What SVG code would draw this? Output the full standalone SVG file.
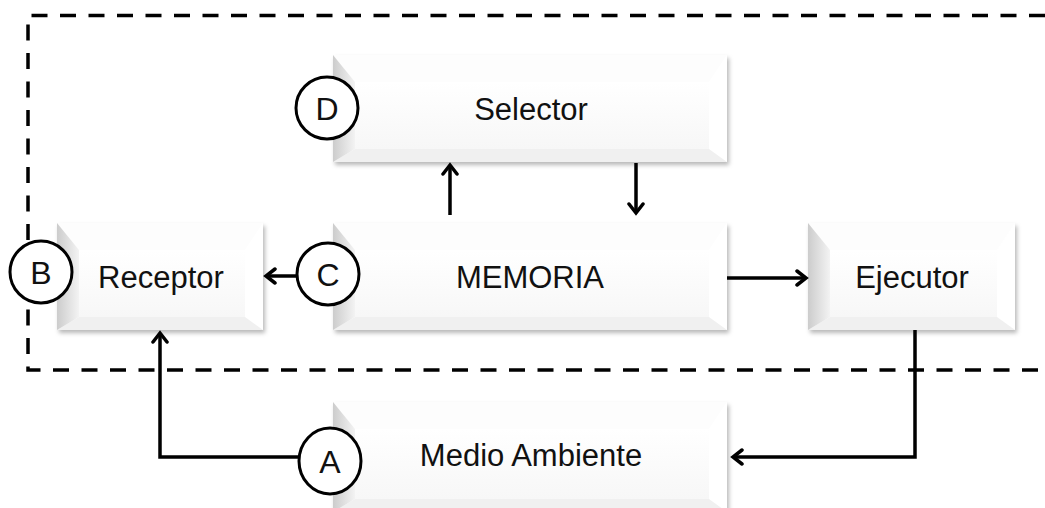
<svg xmlns="http://www.w3.org/2000/svg" width="1045" height="508" viewBox="0 0 1045 508">
<style>
.lbl{font-family:"Liberation Sans",Arial,sans-serif;font-size:31px;fill:#111;text-anchor:middle}
.let{font-family:"Liberation Sans",Arial,sans-serif;font-size:32px;fill:#111;text-anchor:middle}
.outer{fill:#ffffff;filter:url(#sh)}
.lb{fill:url(#gL)}
.tb{fill:#fdfdfd}
.rb{fill:#ffffff}
.bb{fill:#f0f0f0}
.face{fill:url(#gF)}
.ring{fill:#fff;stroke:#000;stroke-width:3}
.con{fill:none;stroke:#000;stroke-width:3.5}
.dash{fill:none;stroke:#000;stroke-width:3.5;stroke-dasharray:16 12.5}
</style>
<defs>
<filter id="sh" x="-5%" y="-5%" width="115%" height="120%">
<feDropShadow dx="2" dy="3" stdDeviation="2" flood-color="#000" flood-opacity="0.28"/>
</filter>
<linearGradient id="gL" x1="0" y1="0" x2="1" y2="0">
<stop offset="0" stop-color="#cccccc"/>
<stop offset="1" stop-color="#f3f3f3"/>
</linearGradient>
<linearGradient id="gF" x1="0" y1="0" x2="0" y2="1">
<stop offset="0" stop-color="#ffffff"/>
<stop offset="1" stop-color="#f7f7f7"/>
</linearGradient>
<marker id="ah" viewBox="0 0 14 18" refX="11" refY="9" markerWidth="14" markerHeight="18" markerUnits="userSpaceOnUse" orient="auto">
<path d="M2,2 L11,9 L2,16" fill="none" stroke="#000" stroke-width="3.5" stroke-linecap="round" stroke-linejoin="miter"/>
</marker>
</defs>
<rect width="1045" height="508" fill="#fff"/>

<g id="boundary">
<path class="dash" d="M1045,15.5 H28 V370 H1045"/>
</g>

<g id="selector">
<rect class="outer" x="333" y="55" width="394" height="107"/>
<polygon class="tb" points="333,55 727,55 709,82 355,82"/>
<polygon class="rb" points="727,55 727,162 709,149 709,82"/>
<polygon class="bb" points="333,162 355,149 709,149 727,162"/>
<polygon class="lb" points="333,55 355,82 355,149 333,162"/>
<rect class="face" x="355" y="82" width="354" height="67"/>
<text class="lbl" x="531" y="120">Selector</text>
</g>

<g id="receptor">
<rect class="outer" x="57" y="223" width="206" height="107"/>
<polygon class="tb" points="57,223 263,223 245,250 79,250"/>
<polygon class="rb" points="263,223 263,330 245,317 245,250"/>
<polygon class="bb" points="57,330 79,317 245,317 263,330"/>
<polygon class="lb" points="57,223 79,250 79,317 57,330"/>
<rect class="face" x="79" y="250" width="166" height="67"/>
<text class="lbl" x="161" y="288">Receptor</text>
</g>

<g id="memoria">
<rect class="outer" x="333" y="223" width="394" height="107"/>
<polygon class="tb" points="333,223 727,223 709,250 355,250"/>
<polygon class="rb" points="727,223 727,330 709,317 709,250"/>
<polygon class="bb" points="333,330 355,317 709,317 727,330"/>
<polygon class="lb" points="333,223 355,250 355,317 333,330"/>
<rect class="face" x="355" y="250" width="354" height="67"/>
<text class="lbl" x="530" y="288">MEMORIA</text>
</g>

<g id="ejecutor">
<rect class="outer" x="808" y="223" width="207" height="107"/>
<polygon class="tb" points="808,223 1015,223 997,250 830,250"/>
<polygon class="rb" points="1015,223 1015,330 997,317 997,250"/>
<polygon class="bb" points="808,330 830,317 997,317 1015,330"/>
<polygon class="lb" points="808,223 830,250 830,317 808,330"/>
<rect class="face" x="830" y="250" width="167" height="67"/>
<text class="lbl" x="912" y="288">Ejecutor</text>
</g>

<g id="medio-ambiente">
<rect class="outer" x="333" y="402" width="394" height="110"/>
<polygon class="tb" points="333,402 727,402 709,429 355,429"/>
<polygon class="rb" points="727,402 727,512 709,499 709,429"/>
<polygon class="bb" points="333,512 355,499 709,499 727,512"/>
<polygon class="lb" points="333,402 355,429 355,499 333,512"/>
<rect class="face" x="355" y="429" width="354" height="70"/>
<text class="lbl" x="531" y="466">Medio Ambiente</text>
</g>

<g id="connectors">
<line class="con" x1="297" y1="276" x2="266" y2="276" marker-end="url(#ah)"/>
<line class="con" x1="727" y1="278" x2="806" y2="278" marker-end="url(#ah)"/>
<line class="con" x1="450" y1="215" x2="450" y2="165" marker-end="url(#ah)"/>
<line class="con" x1="636" y1="163" x2="636" y2="213" marker-end="url(#ah)"/>
<path class="con" d="M915,330 V457 H733" marker-end="url(#ah)"/>
<path class="con" d="M299,457 H160 V333" marker-end="url(#ah)"/>
</g>

<g id="label-d">
<circle class="ring" cx="327" cy="108" r="31"/>
<text class="let" x="327" y="120">D</text>
</g>
<g id="label-b">
<circle class="ring" cx="41" cy="272" r="31"/>
<text class="let" x="41" y="284">B</text>
</g>
<g id="label-c">
<circle class="ring" cx="328" cy="274" r="31"/>
<text class="let" x="328" y="286">C</text>
</g>
<g id="label-a">
<ellipse class="ring" cx="330" cy="461" rx="31" ry="33"/>
<text class="let" x="330" y="473">A</text>
</g>
</svg>
